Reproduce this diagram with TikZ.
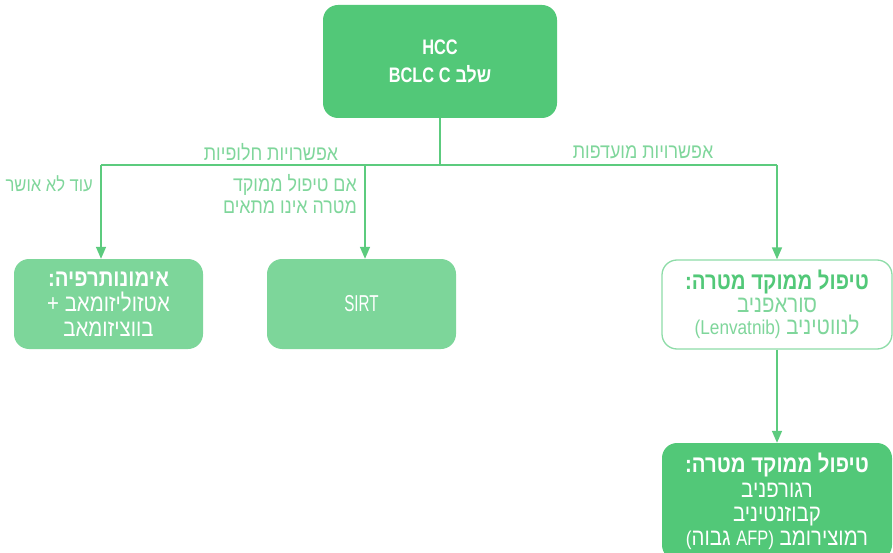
\documentclass[tikz,border=0pt]{standalone}
\usepackage{fontspec}
\setmainfont[Script=Hebrew,FakeStretch=0.85]{Liberation Sans}
% Latin words inside the Hebrew lines
\newfontfamily\latinf[FakeStretch=0.86]{Liberation Sans}
\newfontfamily\narrowf[FakeStretch=0.66]{Liberation Sans}
\newfontfamily\capsf[FakeStretch=0.78]{Liberation Sans}
\TeXXeTstate=1
\usetikzlibrary{arrows.meta}

\definecolor{gdark}{HTML}{52C878}
\definecolor{glight}{HTML}{7DD69A}
\definecolor{gline}{HTML}{5CCB7E}
\definecolor{gtext}{HTML}{7FD69B}
\definecolor{gborder}{HTML}{8EDCA8}

% right-to-left line
\newcommand\rtl[1]{\beginR #1\endR}
% Latin text at a given size
\newcommand\lat[3]{{#1\fontsize{#2}{#2}\selectfont #3}}

\tikzset{
  boxbase/.style={rounded corners=15pt, inner sep=0pt, align=center,
    font=\fontsize{24}{22}\selectfont},
  darkbox/.style={boxbase, fill=gdark, text=white},
  lightbox/.style={boxbase, fill=glight, text=white},
  outlinebox/.style={boxbase, draw=gborder, line width=1.3pt, fill=white, text=gtext},
  link/.style={draw=gline, line width=1.5pt},
  arrowlink/.style={link, -{Triangle[width=10pt,length=12pt]}},
  lbl/.style={text=gtext, font=\fontsize{21}{22}\selectfont, inner sep=0pt},
}

\begin{document}
\begin{tikzpicture}[x=1pt,y=-1pt]
\useasboundingbox (0,0) rectangle (893,553);
\clip (0,0) rectangle (893,553);

% boxes
\node[darkbox, minimum width=234pt, minimum height=113pt,
      font=\bfseries\fontsize{21}{28}\selectfont] (top) at (440,61.5)
  {{\capsf HCC}\\\rtl{שלב \beginL{\capsf BCLC C}\endL}};

\node[lightbox, minimum width=189pt, minimum height=90pt,
      font=\fontsize{24}{25}\selectfont] (immuno) at (108.5,304)
  {\textbf{\rtl{אימונותרפיה:}}\\\rtl{אטזוליזומאב +}\\\rtl{בווציזומאב}};

\node[lightbox, minimum width=189pt, minimum height=90pt] (sirt) at (361.5,304)
  {\lat{\narrowf}{23}{SIRT}};

\node[outlinebox, minimum width=230pt, minimum height=89pt,
      font=\fontsize{24}{21.5}\selectfont] (target) at (777,304.5)
  {\textcolor{gdark}{\textbf{\rtl{טיפול ממוקד מטרה:}}}\\[1.5pt]\rtl{סוראפניב}\\
   \rtl{לנווטיניב \beginL\lat{\latinf}{20}{(Lenvatnib)}\endL}};

\node[darkbox, minimum width=230pt, minimum height=117pt,
      font=\fontsize{24}{24.3}\selectfont] (second) at (777,501.5)
  {\textbf{\rtl{טיפול ממוקד מטרה:}}\\\rtl{רגורפניב}\\\rtl{קבוזנטיניב}\\
   \rtl{רמוצירומב \beginL\lat{\latinf}{20}{(}\kern0pt גבוה
     \lat{\capsf}{21}{AFP}\lat{\latinf}{20}{)}\endL}};

% branching connectors
\coordinate (hub) at (top.south |- 0,165);
\coordinate (jl) at (101,165);
\coordinate (jm) at (365,165);
\coordinate (jr) at (777,165);

\draw[link] (top.south) -- (hub);
\draw[link] (jl) -- (jr);
\draw[arrowlink] (jl) -- (jl |- immuno.north);
\draw[arrowlink] (jm) -- (jm |- sirt.north);
\draw[arrowlink] (jr) -- (target.north);
\draw[arrowlink] (target.south) -- (second.north);

% branch labels
\node[lbl] (altlbl) at (271,152) {\rtl{אפשרויות חלופיות}};
\node[lbl] (preflbl) at (643,152) {\rtl{אפשרויות מועדפות}};
\node[lbl, anchor=east, font=\fontsize{19.5}{22}\selectfont] (notyet) at (93,184)
  {\rtl{עוד לא אושר}};
\node[lbl, anchor=north east, align=right] (ifnot) at (357,174)
  {\rtl{אם טיפול ממוקד}\\\rtl{מטרה אינו מתאים}};
\end{tikzpicture}
\end{document}
